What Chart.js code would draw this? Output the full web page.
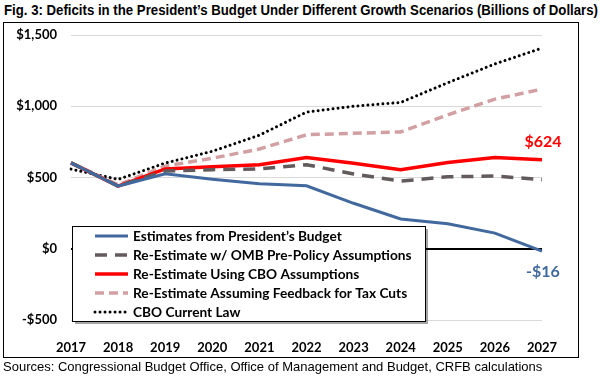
<!DOCTYPE html>
<html>
<head>
<meta charset="utf-8">
<script src="https://cdn.jsdelivr.net/npm/chart.js@4"></script>
<style>
  body { margin: 0; background: #fff; }
  #wrap { position: relative; width: 604px; height: 376px; overflow: hidden; }
  #title { position: absolute; left: 4px; top: 2px; font: bold 14px "Liberation Sans", Arial, sans-serif; color: #000; white-space: nowrap; transform-origin: 0 0; }
  #frame { position: absolute; left: 3px; top: 22px; width: 574px; height: 334px; border: 1px solid #000; }
  #src { position: absolute; left: 3px; top: 359px; font: 13px "Liberation Sans", Arial, sans-serif; color: #000; white-space: nowrap; }
  canvas { position: absolute; left: 0; top: 0; }
</style>
</head>
<body>
<div id="wrap">
  <div id="title">Fig. 3: Deficits in the President’s Budget Under Different Growth Scenarios (Billions of Dollars)</div>
  <div id="frame"></div>
  <canvas id="deficitChart" width="604" height="376"></canvas>
  <div id="src">Sources: Congressional Budget Office, Office of Management and Budget, CRFB calculations</div>
</div>
<script>
// years on the x axis
const years = ['2017', '2018', '2019', '2020', '2021', '2022', '2023', '2024', '2025', '2026', '2027'];

// deficits, billions of dollars
const presidentsBudget = [603, 440, 526, 488, 456, 442, 319, 209, 176, 110, -16];
const ombPrePolicy = [603, 440, 545, 555, 560, 590, 525, 475, 505, 510, 485];
const cboAssumptions = [603, 440, 560, 575, 590, 640, 600, 555, 605, 640, 624];
const taxFeedback = [603, 448, 580, 635, 700, 800, 810, 820, 940, 1050, 1120];
const cboCurrentLaw = [559, 487, 601, 684, 797, 959, 1000, 1027, 1165, 1297, 1408];

const yTicks = [-500, 0, 500, 1000, 1500];

const uiFont = 'Lato, "Open Sans", sans-serif';

// legend box drawn inside the plot, like the Excel original
const boxLegend = {
    id: 'boxLegend',
    afterDatasetsDraw(chart) {
        const ctx = chart.ctx;
        const x = 72, y = 226, w = 353, h = 95;
        ctx.save();
        ctx.fillStyle = 'rgba(0,0,0,0.35)';
        ctx.fillRect(x + 3, y + 3, w, h);
        ctx.fillStyle = '#fff';
        ctx.fillRect(x, y, w, h);
        ctx.strokeStyle = '#000';
        ctx.lineWidth = 1;
        ctx.strokeRect(x + 0.5, y + 0.5, w, h);
        ctx.font = 'bold 13.7px ' + uiFont;
        ctx.textBaseline = 'middle';
        chart.data.datasets.forEach((ds, i) => {
            const cy = y + 10 + i * 19;
            ctx.beginPath();
            ctx.setLineDash(ds.borderDash || []);
            ctx.lineCap = ds.borderCapStyle || 'butt';
            ctx.strokeStyle = ds.borderColor;
            ctx.lineWidth = ds.borderWidth;
            ctx.moveTo(95, cy);
            ctx.lineTo(128, cy);
            ctx.stroke();
            ctx.setLineDash([]);
            ctx.fillStyle = '#000';
            ctx.fillText(ds.label, 133, cy + 1);
        });
        ctx.restore();
    }
};

// end-of-line value labels
const endLabels = {
    id: 'endLabels',
    afterDatasetsDraw(chart) {
        const ctx = chart.ctx;
        ctx.save();
        ctx.font = 'bold 16px ' + uiFont;
        ctx.textAlign = 'center';
        ctx.textBaseline = 'middle';
        const last = years.length - 1;
        const red = chart.getDatasetMeta(2).data[last];
        ctx.fillStyle = '#ff0000';
        ctx.fillText('$' + cboAssumptions[last], red.x + 1, red.y - 18);
        const blue = chart.getDatasetMeta(0).data[last];
        ctx.fillStyle = '#41699d';
        const v = presidentsBudget[last];
        ctx.fillText((v < 0 ? '-$' : '$') + Math.abs(v), blue.x + 1, blue.y + 21);
        ctx.restore();
    }
};

function fitTitle() {
    const t = document.getElementById('title');
    const w = t.getBoundingClientRect().width;
    t.style.transform = 'scaleX(' + (594 / w) + ')';
}

function build() {
    fitTitle();
    const canvas = document.getElementById('deficitChart');
    new Chart(canvas, {
        type: 'line',
        data: {
            labels: years,
            datasets: [
                {
                    label: 'Estimates from President’s Budget',
                    data: presidentsBudget,
                    borderColor: '#41699d',
                    borderWidth: 3,
                },
                {
                    label: 'Re-Estimate w/ OMB Pre-Policy Assumptions',
                    data: ombPrePolicy,
                    borderColor: '#635a5c',
                    borderWidth: 3.5,
                    borderDash: [12, 8],
                },
                {
                    label: 'Re-Estimate Using CBO Assumptions',
                    data: cboAssumptions,
                    borderColor: '#ff0000',
                    borderWidth: 3.5,
                },
                {
                    label: 'Re-Estimate Assuming Feedback for Tax Cuts',
                    data: taxFeedback,
                    borderColor: '#d2a0a3',
                    borderWidth: 3.5,
                    borderDash: [9, 5],
                },
                {
                    label: 'CBO Current Law',
                    data: cboCurrentLaw,
                    borderColor: '#000',
                    borderWidth: 3,
                    borderDash: [0.01, 5],
                    borderCapStyle: 'round',
                },
            ],
        },
        options: {
            responsive: false,
            animation: false,
            elements: {
                point: { radius: 0 },
                line: { tension: 0 },
            },
            layout: { padding: { top: 35, right: 62, left: 0, bottom: 0 } },
            plugins: {
                legend: { display: false },
                tooltip: { enabled: false },
            },
            scales: {
                x: {
                    grid: { display: false },
                    border: { display: false },
                    ticks: {
                        color: '#000',
                        font: { family: uiFont, size: 13, weight: 'bold' },
                        padding: 12,
                        maxRotation: 0,
                        autoSkip: false,
                    },
                    afterFit: s => { s.height = 56; },
                },
                y: {
                    min: -500,
                    max: 1500,
                    afterBuildTicks: s => { s.ticks = yTicks.map(v => ({ value: v })); },
                    grid: {
                        drawTicks: false,
                        color: c => (c.tick && c.tick.value === 0 ? '#000' : '#d9d9d9'),
                        lineWidth: c => (c.tick && c.tick.value === 0 ? 2 : 1),
                    },
                    border: { display: false },
                    ticks: {
                        color: '#000',
                        font: { family: uiFont, size: 13, weight: 'bold' },
                        padding: 14,
                        callback: v => (v < 0 ? '-$' : '$') + Math.abs(v).toLocaleString('en-US'),
                    },
                    afterFit: s => { s.width = 71; },
                },
            },
        },
        plugins: [boxLegend, endLabels],
    });
}

Promise.all([
    document.fonts.load('bold 13px Lato'),
    document.fonts.load('bold 14px "Liberation Sans"'),
    document.fonts.load('13px "Liberation Sans"'),
]).then(build, build);
</script>
</body>
</html>
